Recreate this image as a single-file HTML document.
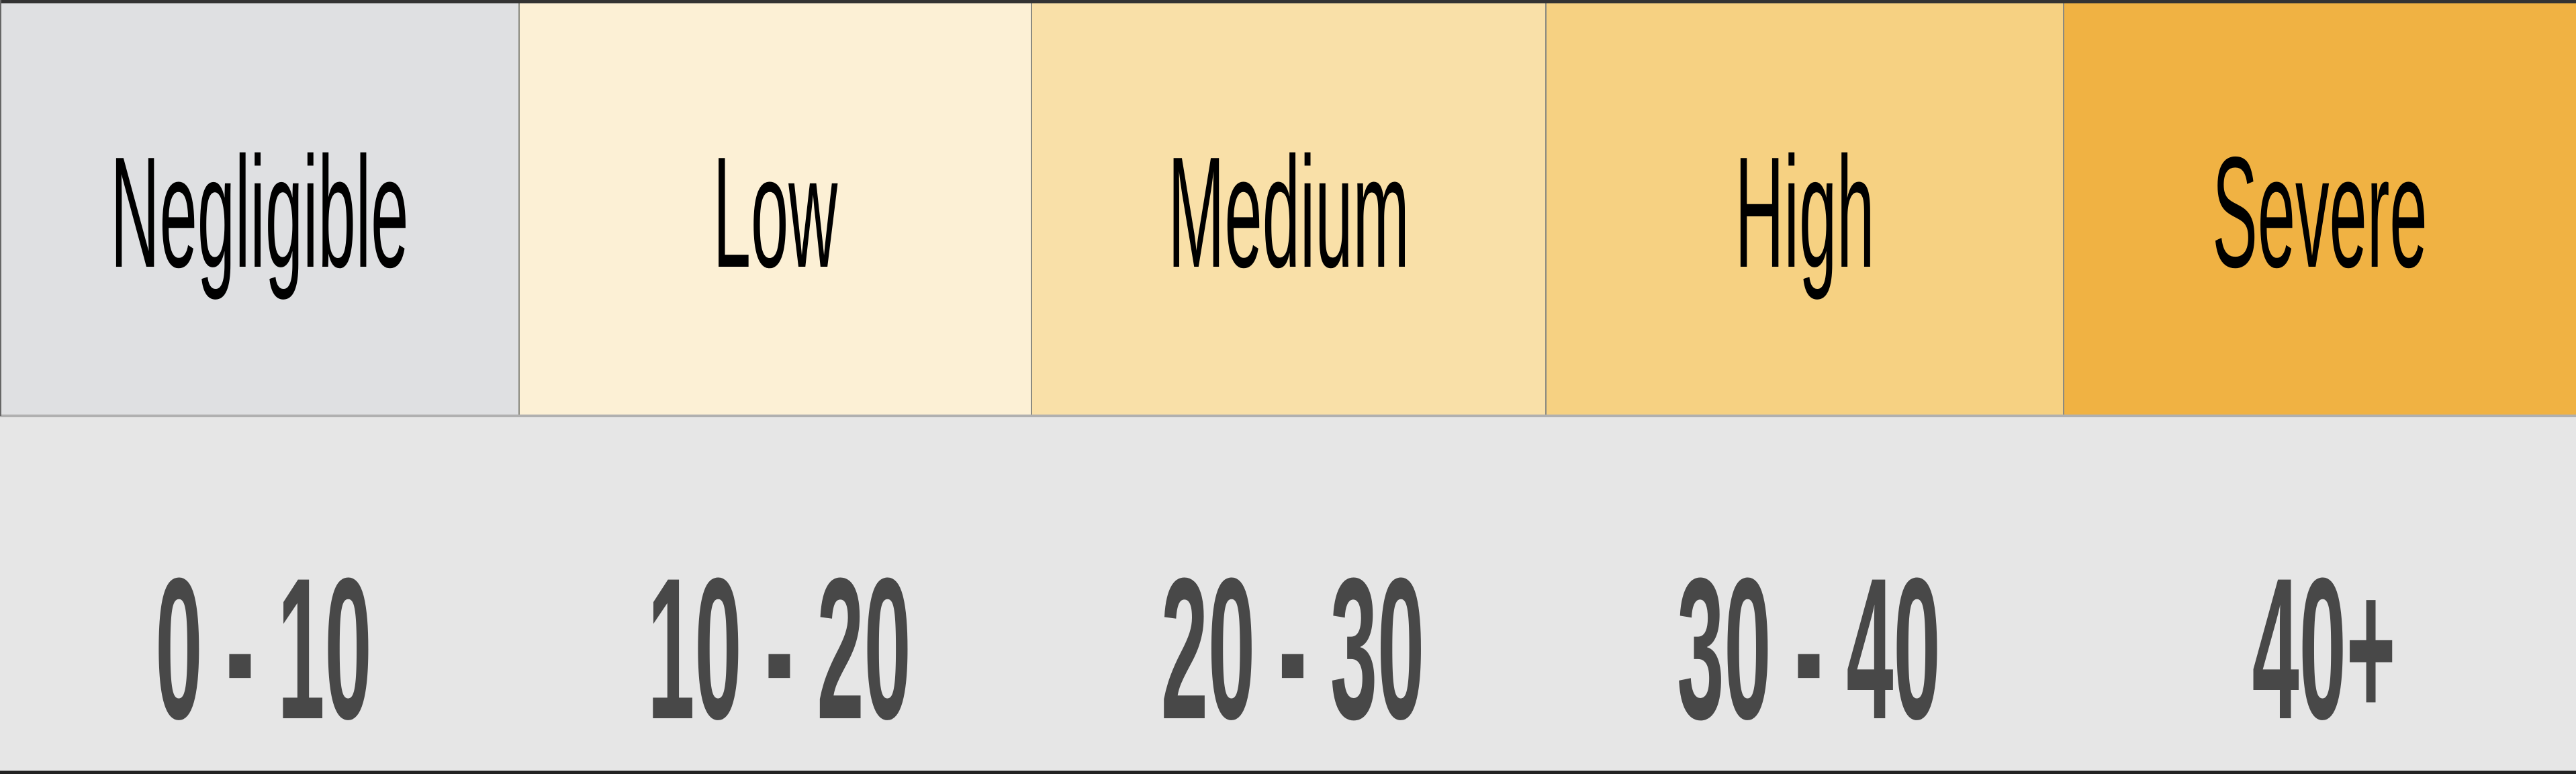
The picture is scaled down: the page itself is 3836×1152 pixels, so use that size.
<!DOCTYPE html>
<html><head><meta charset="utf-8"><style>
html,body{margin:0;padding:0;background:#e6e6e6;}
svg{display:block;}
</style></head><body>
<svg width="3836" height="1152" viewBox="0 0 3836 1152" xmlns="http://www.w3.org/2000/svg">
<rect x="0" y="0" width="3836" height="1152" fill="#e6e6e6"/>
<g id="bands"></g>
<rect x="0" y="617" width="3836" height="4" fill="#b0b0b0"/>
<rect x="0" y="0" width="3836" height="5" fill="#333"/>
<rect x="0" y="1147" width="3836" height="5" fill="#222"/>
<rect x="0" y="0" width="2" height="619" fill="#666"/>
</svg>
<script>
const categories = ["Negligible","Low","Medium","High","Severe"];
const ranges = ["0 - 10","10 - 20","20 - 30","30 - 40","40+"];
const bounds = [0,773,1536,2302,3073,3836];
const colors = ["#dfe0e2","#fcf0d5","#f9e0a8","#f6d182","#f0b243"];
const NS="http://www.w3.org/2000/svg";
const g=document.getElementById('bands');
for(let i=0;i<categories.length;i++){
  const x0=bounds[i], x1=bounds[i+1], cx=(x0+x1)/2;
  const r=document.createElementNS(NS,'rect');
  r.setAttribute('x',x0);r.setAttribute('y',5);r.setAttribute('width',x1-x0);r.setAttribute('height',612);
  r.setAttribute('fill',colors[i]);
  
  
  g.appendChild(r);
  if(i>0){
    const d=document.createElementNS(NS,'rect');
    d.setAttribute('x',x0-1);d.setAttribute('y',5);d.setAttribute('width',2);d.setAttribute('height',612);
    d.setAttribute('fill','#8a8a80');
    
    
    g.appendChild(d);
  }
  const t=document.createElementNS(NS,'text');
  t.setAttribute('x',cx/0.43);t.setAttribute('y',397);
  t.setAttribute('transform','scale(0.43,1)');
  t.setAttribute('text-anchor','middle');
  t.setAttribute('font-family','Liberation Sans, sans-serif');
  t.setAttribute('font-size','235');
  t.setAttribute('fill','#000');
  t.textContent=categories[i];
  
  
  g.appendChild(t);
  const n=document.createElementNS(NS,'text');
  n.setAttribute('x',(cx+6)/0.42);n.setAttribute('y',1069);
  n.setAttribute('transform','scale(0.42,1)');
  n.setAttribute('text-anchor','middle');
  n.setAttribute('font-family','Liberation Sans, sans-serif');
  n.setAttribute('font-weight','bold');
  n.setAttribute('font-size','300');
  n.setAttribute('fill','#484848');
  n.textContent=ranges[i];
  
  
  g.appendChild(n);
}
</script>
</body></html>
